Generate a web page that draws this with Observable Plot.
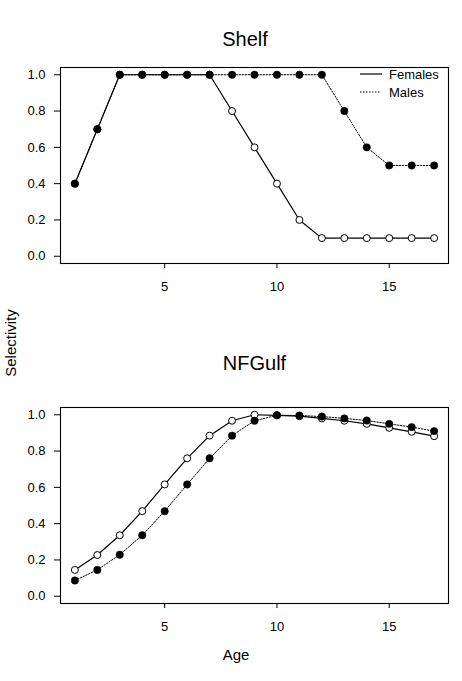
<!DOCTYPE html>
<html><head><meta charset="utf-8">
<script src="https://cdn.jsdelivr.net/npm/d3@7"></script>
<script src="https://cdn.jsdelivr.net/npm/@observablehq/plot@0.6"></script>
<style>
body{margin:0;background:#fff;}
#chart{position:relative;width:462px;height:681px;background:#fff;font-family:"Liberation Sans",Arial,Helvetica,sans-serif;color:#000;}
.abs{position:absolute;left:0;}
</style></head><body><div id="chart"></div>
<script>
const ages = [1,2,3,4,5,6,7,8,9,10,11,12,13,14,15,16,17];
const shelfFemales = [0.4,0.7,1,1,1,1,1,0.8,0.6,0.4,0.2,0.1,0.1,0.1,0.1,0.1,0.1];
const shelfMales   = [0.4,0.7,1,1,1,1,1,1,1,1,1,1,0.8,0.6,0.5,0.5,0.5];
const gulfFemales  = [0.145,0.227,0.336,0.469,0.616,0.76,0.885,0.967,1.0,0.997,0.992,0.98,0.967,0.95,0.928,0.906,0.882];
const gulfMales    = [0.087,0.145,0.229,0.336,0.469,0.616,0.76,0.885,0.967,0.997,0.996,0.99,0.98,0.968,0.95,0.932,0.91];
const yTicks = [0,0.2,0.4,0.6,0.8,1.0];
const xTicks = [5,10,15];
const panelTitles = ["Shelf","NFGulf"];
const seriesNames = ["Females","Males"];
const xLabel = "Age";
const yLabel = "Selectivity";

const FONT = '"Liberation Sans",Arial,Helvetica,sans-serif';

function panel(fem, mal) {
  const f = ages.map((a,i)=>({age:a, v:fem[i]}));
  const m = ages.map((a,i)=>({age:a, v:mal[i]}));
  return Plot.plot({
    width:462, height:300,
    marginLeft:60, marginRight:14, marginTop:67, marginBottom:37,
    style:{fontFamily:FONT, fontSize:"13px", color:"#000", background:"transparent", overflow:"visible"},
    x:{domain:[0.36,17.64]},
    y:{domain:[-0.04,1.04]},
    marks:[
      Plot.axisY({ticks:yTicks, tickFormat:d3.format(".1f"), tickSize:6, tickPadding:9, label:null, fontSize:13}),
      Plot.axisX({ticks:xTicks, tickSize:5, tickPadding:13, label:null, fontSize:13}),
      Plot.line(f,{x:"age",y:"v",stroke:"#000",strokeWidth:1.2}),
      Plot.dot(f,{x:"age",y:"v",r:3.5,fill:"#fff",stroke:"#000",strokeWidth:1}),
      Plot.line(m,{x:"age",y:"v",stroke:"#000",strokeWidth:1,strokeDasharray:"1.5,1.5"}),
      Plot.dot(m,{x:"age",y:"v",r:3.7,fill:"#000",stroke:"#000",strokeWidth:0.5}),
      Plot.frame({stroke:"#000", strokeWidth:1.1})
    ]
  });
}

const chart = document.getElementById("chart");
const p1 = panel(shelfFemales, shelfMales);
const d1 = document.createElement("div"); d1.className="abs"; d1.style.top="0px"; d1.appendChild(p1); chart.appendChild(d1);
const p2 = panel(gulfFemales, gulfMales);
const d2 = document.createElement("div"); d2.className="abs"; d2.style.top="340px"; d2.appendChild(p2); chart.appendChild(d2);

// overlay texts and legend
const ns = "http://www.w3.org/2000/svg";
const ov = document.createElementNS(ns,"svg");
ov.setAttribute("width",462); ov.setAttribute("height",681);
ov.setAttribute("class","abs"); ov.style.top="0px"; ov.style.pointerEvents="none";
ov.setAttribute("font-family", FONT);
chart.appendChild(ov);
function txt(s, x, y, size, anchor, rot){
  const t = document.createElementNS(ns,"text");
  t.textContent = s; t.setAttribute("x",x); t.setAttribute("y",y);
  t.setAttribute("font-size",size); t.setAttribute("text-anchor",anchor||"middle");
  t.setAttribute("fill","#000");
  if (rot) t.setAttribute("transform",`rotate(${rot},${x},${y})`);
  ov.appendChild(t);
}
function ln(x1,y1,x2,y2,dash,w){
  const l = document.createElementNS(ns,"line");
  l.setAttribute("x1",x1);l.setAttribute("y1",y1);l.setAttribute("x2",x2);l.setAttribute("y2",y2);
  l.setAttribute("stroke","#000"); l.setAttribute("stroke-width",w);
  if (dash) l.setAttribute("stroke-dasharray",dash);
  ov.appendChild(l);
}
txt(panelTitles[0], 245, 46, 20);
txt(panelTitles[1], 254.5, 370, 20);
txt(xLabel, 236, 660, 15);
txt(yLabel, 16, 343, 15, "middle", -90);
// legend
ln(360, 74, 382, 74, null, 1.2);
ln(360, 92, 380, 92, "1.5,1.5", 1);
txt(seriesNames[0], 389, 78.5, 13, "start");
txt(seriesNames[1], 389, 96.5, 13, "start");
</script></body></html>
